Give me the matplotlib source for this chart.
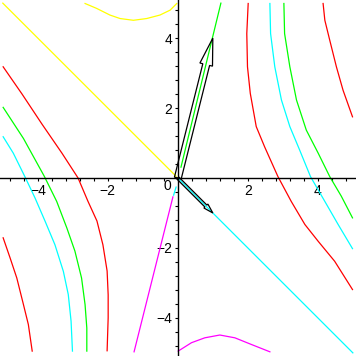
import matplotlib
matplotlib.use("Agg")
import matplotlib.pyplot as plt
from matplotlib.patches import FancyArrow
from matplotlib.ticker import MultipleLocator

plt.rcParams['font.family'] = ['Liberation Sans', 'DejaVu Sans']

# eigen-direction lines
yellow_line_x = [-5.0, -0.05]
yellow_line_y = [5.0, 0.05]
cyan_line_x = [0.02, 5.0]
cyan_line_y = [-0.02, -5.0]
green_line_x = [0.09, 1.23]
green_line_y = [0.31, 5.0]
magenta_line_x = [-0.14, -1.25]
magenta_line_y = [-0.54, -4.97]
cyan_bit_x = [-0.05, -0.12]
cyan_bit_y = [-0.26, -0.49]

# top / bottom curves
yellow_top_x = [-2.65, -2.32, -1.94, -1.65, -1.27, -0.89, -0.51, -0.22, -0.03]
yellow_top_y = [4.99, 4.85, 4.66, 4.56, 4.51, 4.56, 4.66, 4.80, 4.99]
magenta_bot_x = [0.01, 0.39, 0.77, 1.20, 1.63, 2.10, 2.63]
magenta_bot_y = [-4.95, -4.71, -4.57, -4.49, -4.57, -4.76, -4.97]

# left side curves
red_left_x = [-4.99, -4.45, -3.88, -3.31, -2.85, -2.57, -2.31, -2.14, -2.02, -1.99, -1.99, -2.02]
red_left_y = [3.18, 2.40, 1.54, 0.71, 0.0, -0.66, -1.23, -1.91, -2.66, -3.34, -4.0, -4.94]
green_left_x = [-4.99, -4.41, -3.81, -3.46, -3.17, -2.94, -2.75, -2.65, -2.60, -2.60]
green_left_y = [2.02, 1.13, 0.04, -0.67, -1.43, -2.09, -2.86, -3.62, -4.29, -4.95]
cyan_left_x = [-4.99, -4.70, -4.37, -4.08, -3.79, -3.51, -3.27, -3.13, -3.05, -3.01]
cyan_left_y = [1.18, 0.71, 0.04, -0.57, -1.24, -1.91, -2.67, -3.33, -4.09, -4.95]
red_outer_left_x = [-4.99, -4.79, -4.60, -4.41, -4.27, -4.16]
red_outer_left_y = [-1.71, -2.29, -2.86, -3.62, -4.19, -4.95]

# right side curves
red_right_x = [2.01, 1.97, 1.99, 2.07, 2.24, 2.48, 2.86, 3.24, 3.63, 4.01, 4.48, 4.99]
red_right_y = [4.99, 4.13, 3.18, 2.42, 1.47, 0.89, 0.04, -0.67, -1.33, -1.81, -2.38, -3.19]
cyan_right_x = [2.63, 2.65, 2.77, 2.96, 3.20, 3.48, 3.79, 4.20, 4.58, 4.99]
cyan_right_y = [4.99, 4.13, 3.18, 2.23, 1.47, 0.80, 0.04, -0.67, -1.33, -2.02]
green_right_x = [3.03, 3.05, 3.20, 3.39, 3.67, 4.01, 4.34, 4.67, 4.99]
green_right_y = [4.99, 4.13, 3.18, 2.23, 1.37, 0.71, 0.04, -0.52, -1.14]
red_outer_right_x = [4.15, 4.20, 4.34, 4.53, 4.72, 4.99]
red_outer_right_y = [4.99, 4.51, 3.94, 3.18, 2.51, 1.75]

# eigenvectors drawn as arrows
vec1 = [1, 4]
vec2 = [1, -1]

xticks = [-4, -2, 2, 4]
yticks = [-4, -2, 2, 4]

fig = plt.figure(figsize=(3.56, 3.56), dpi=100)
ax = fig.add_axes([0, 0, 1, 1])

lw = 0.9
ax.plot(yellow_line_x, yellow_line_y, color='#ffff00', lw=lw)
ax.plot(cyan_line_x, cyan_line_y, color='#00ffff', lw=lw)
ax.plot(green_line_x, green_line_y, color='#00ff00', lw=lw)
ax.plot(magenta_line_x, magenta_line_y, color='#ff00ff', lw=lw)
ax.plot(cyan_bit_x, cyan_bit_y, color='#00ffff', lw=lw)
ax.plot(yellow_top_x, yellow_top_y, color='#ffff00', lw=lw)
ax.plot(magenta_bot_x, magenta_bot_y, color='#ff00ff', lw=lw)
ax.plot(red_left_x, red_left_y, color='#ff0000', lw=lw)
ax.plot(green_left_x, green_left_y, color='#00ff00', lw=lw)
ax.plot(cyan_left_x, cyan_left_y, color='#00ffff', lw=lw)
ax.plot(red_outer_left_x, red_outer_left_y, color='#ff0000', lw=lw)
ax.plot(red_right_x, red_right_y, color='#ff0000', lw=lw)
ax.plot(cyan_right_x, cyan_right_y, color='#00ffff', lw=lw)
ax.plot(green_right_x, green_right_y, color='#00ff00', lw=lw)
ax.plot(red_outer_right_x, red_outer_right_y, color='#ff0000', lw=lw)

ax.add_patch(FancyArrow(0, 0, vec1[0], vec1[1], width=0.2, head_width=0.37,
                        head_length=0.78, length_includes_head=True,
                        fill=False, ec='black', lw=0.9, zorder=3))
ax.add_patch(FancyArrow(0, 0, vec2[0], vec2[1], width=0.08, head_width=0.16,
                        head_length=0.28, length_includes_head=True,
                        fill=False, ec='black', lw=0.9, zorder=3))

ax.set_xlim(-5.08, 5.09)
ax.set_ylim(-5.09, 5.09)

# maple style axes through the origin
for s in ['top', 'right']:
    ax.spines[s].set_visible(False)
ax.spines['left'].set_position('zero')
ax.spines['bottom'].set_position('zero')
ax.spines['left'].set_linewidth(1.0)
ax.spines['bottom'].set_linewidth(1.0)
ax.set_xticks(xticks)
ax.set_yticks(yticks)
ax.xaxis.set_minor_locator(MultipleLocator(0.4))
ax.yaxis.set_minor_locator(MultipleLocator(0.4))
ax.tick_params(which='both', direction='out', length=2.2, width=0.8, labelsize=10, pad=2)
ax.text(-0.2, -0.03, '0', ha='right', va='top', fontsize=10)

fig.savefig('out.png', dpi=100)
